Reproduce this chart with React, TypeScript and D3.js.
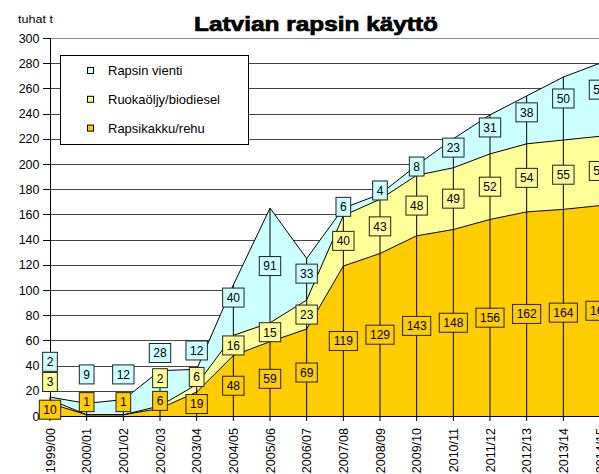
import React from 'react';
import * as d3 from 'd3';

const categories = ['1999/00', '2000/01', '2001/02', '2002/03', '2003/04', '2004/05', '2005/06', '2006/07', '2007/08', '2008/09', '2009/10', '2010/11', '2011/12', '2012/13', '2013/14', '2014/15'];
const rehu = [10, 1, 1, 6, 19, 48, 59, 69, 119, 129, 143, 148, 156, 162, 164, 167];
const ruoka = [3, 0, 0, 2, 6, 16, 15, 23, 40, 43, 48, 49, 52, 54, 55, 55];
const vienti = [2, 9, 12, 28, 12, 40, 91, 33, 6, 4, 8, 23, 31, 38, 50, 58];
// label anchor levels (data units) as placed in the original; null = middle of band
const labelAtRehu: (number | null)[] = [null, 11, 11, 12, null, null, null, null, null, null, null, null, null, null, null, null];
const labelAtRuoka: (number | null)[] = [27, null, null, 30, 31, null, null, null, null, null, null, null, null, null, null, null];
const labelAtVienti: (number | null)[] = [43, 33, 33, 50, 52, 94, 119, 113, 166, 179, 198, 213, 229, 241, 252, 259];
const yTicks = [0, 20, 40, 60, 80, 100, 120, 140, 160, 180, 200, 220, 240, 260, 280, 300];

const seriesNames = ['Rapsikakku/rehu', 'Ruokaöljy/biodiesel', 'Rapsin vienti'];
const colors = ['#FFCC00', '#FFFF99', '#CCFFFF'];
const title = 'Latvian rapsin käyttö';
const unitLabel = 'tuhat t';

const W = 599, H = 474;
const FONT = 'Liberation Sans, Arial, sans-serif';

export default function App() {
  const x = d3.scalePoint<string>().domain(categories).range([50, 600]);
  const y = d3.scaleLinear().domain([0, 300]).range([416, 38]);
  const rows = categories.map((c, i) => ({ c, a: rehu[i], b: ruoka[i], v: vienti[i] }));
  const stack = d3.stack<any>().keys(['a', 'b', 'v'])(rows);
  const area = d3.area<any>()
    .x((d) => x(d.data.c)!)
    .y0((d) => y(d[0]))
    .y1((d) => y(d[1]));
  const line = d3.line<any>().x((d) => x(d.data.c)!).y((d) => y(d[1]));
  const anchors = [labelAtRehu, labelAtRuoka, labelAtVienti];
  const values = [rehu, ruoka, vienti];

  const labels: any[] = [];
  stack.forEach((s, si) => {
    s.forEach((d, i) => {
      const val = values[si][i];
      if (!val) return;
      const at = anchors[si][i] ?? (d[0] + d[1]) / 2;
      labels.push({ si, i, val, cx: x(categories[i])!, cy: y(at) });
    });
  });

  return (
    <div style={{ position: 'absolute', left: 0, top: 0 }}>
      <svg width={W} height={H} style={{ display: 'block' }} fontFamily={FONT}>
        <rect width={W} height={H} fill="#fff" />
        {yTicks.map((t) => (
          <line key={t} x1={50} x2={W} y1={Math.round(y(t)) + 0.5} y2={Math.round(y(t)) + 0.5} stroke={t === 300 ? '#888' : '#444'} strokeWidth={1} />
        ))}
        {stack.map((s, si) => (
          <path key={si} d={area(s)!} fill={colors[si]} stroke="none" />
        ))}
        {stack.map((s, si) => (
          <path key={'l' + si} d={line(s)!} fill="none" stroke="#000" strokeWidth={1} />
        ))}
        {categories.map((c, i) => (
          <line key={c} x1={x(c)!} x2={x(c)!} y1={y(stack[2][i][1])} y2={y(0) + 5} stroke="#000" strokeWidth={1} />
        ))}
        <line x1={50.5} x2={50.5} y1={38} y2={416} stroke="#000" />
        <line x1={50} x2={W} y1={416.5} y2={416.5} stroke="#000" />
        {yTicks.map((t) => (
          <g key={'t' + t}>
            <line x1={43} x2={50} y1={Math.round(y(t)) + 0.5} y2={Math.round(y(t)) + 0.5} stroke="#000" />
            <text x={39.5} y={y(t)} dy="0.36em" textAnchor="end" fontSize={12.5} fill="#000">{t}</text>
          </g>
        ))}
        {categories.map((c) => (
          <text key={'x' + c} transform={`translate(${x(c)! + 4.5},428) rotate(-90)`} textAnchor="end" fontSize={12.5} fill="#000">{c}</text>
        ))}
        {labels.map((l) => {
          const txt = String(l.val);
          const w = txt.length * 6.7 + 8;
          const h = 19;
          return (
            <g key={l.si + '-' + l.i}>
              <rect x={l.cx - w / 2} y={l.cy - h / 2} width={w} height={h} fill={colors[l.si]} stroke="#222" strokeWidth={1} />
              <text x={l.cx} y={l.cy} dy="0.36em" textAnchor="middle" fontSize={12} fill="#000">{txt}</text>
            </g>
          );
        })}
        <g>
          <rect x={60.5} y={55.5} width={188} height={89} fill="#fff" stroke="#000" strokeWidth={1} />
          {[2, 1, 0].map((si, k) => (
            <g key={'lg' + si}>
              <rect x={87.5} y={67.5 + k * 28.8} width={6} height={6} fill={colors[si]} stroke="#000" strokeWidth={1} />
              <text x={108} y={70.7 + k * 28.8} dy="0.36em" fontSize={13} fill="#000">{seriesNames[si]}</text>
            </g>
          ))}
        </g>
        <text x={18} y={22.5} fontSize={11} textLength={35} lengthAdjust="spacingAndGlyphs" fill="#000">{unitLabel}</text>
        <text x={316} y={30.5} textAnchor="middle" fontSize={20} fontWeight="bold" stroke="#000" strokeWidth={0.7} textLength={244} lengthAdjust="spacingAndGlyphs" fill="#000">{title}</text>
      </svg>
    </div>
  );
}
